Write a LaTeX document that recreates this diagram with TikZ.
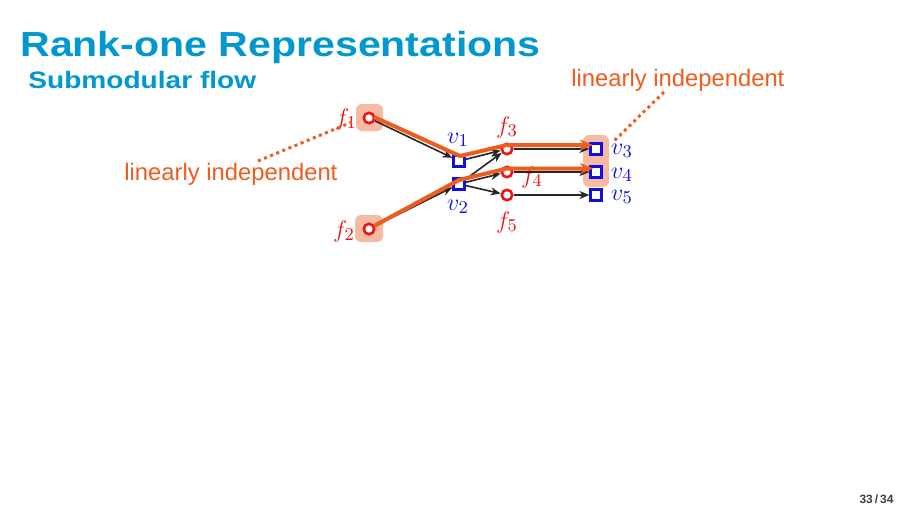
\documentclass[tikz,border=0pt]{standalone}
\usepackage{fontspec}
\setmainfont{Liberation Sans}
\newfontfamily\titlefont[FakeStretch=1.18]{Liberation Sans Bold}
\usetikzlibrary{arrows.meta,calc}
\definecolor{titleblue}{RGB}{0,152,206}
\definecolor{hlorange}{RGB}{238,92,30}
\definecolor{hlbox}{RGB}{247,186,162}
\definecolor{nodered}{RGB}{235,20,20}
\definecolor{nodeblue}{RGB}{15,15,225}
\begin{document}
\begin{tikzpicture}[x=0.5pt,y=-0.5pt,
  fnode/.style={circle,draw=nodered,fill=white,line width=1.3pt,minimum size=5.2pt,inner sep=0pt},
  vnode/.style={rectangle,draw=nodeblue,fill=white,line width=1.4pt,minimum size=5.2pt,inner sep=0pt},
  flab/.style={text=nodered,font=\fontsize{12.5}{14}\selectfont,inner sep=0pt},
  vlab/.style={text=nodeblue,font=\fontsize{12.5}{14}\selectfont,inner sep=0pt},
  edge/.style={draw=black!85,line width=0.8pt,-{Stealth[length=5pt,width=4pt]}},
  flow/.style={draw=hlorange,line width=2pt,line join=round,-{Stealth[length=6.5pt,width=5.5pt]}},
  hl/.style={fill=hlbox,rounded corners=3pt},
  dots/.style={draw=hlorange,line width=1.5pt,dash pattern=on 1.5pt off 1.8pt},
  note/.style={text=hlorange,font=\fontsize{11.9}{14}\selectfont,inner sep=0pt,anchor=base west},
]
\fill[white] (0,0) rectangle (907,510);
\useasboundingbox (0,0) rectangle (907,510);

% titles
\node[anchor=base west,text=titleblue,font=\titlefont\fontsize{17.4}{20}\selectfont,inner sep=0pt] (title) at (20,56) {Rank-one Representations};
\node[anchor=base west,text=titleblue,font=\titlefont\fontsize{11.9}{14}\selectfont,inner sep=0pt] (subtitle) at (28,88) {Submodular flow};

% highlight boxes
\fill[hl] (356,104) rectangle (383,131);
\fill[hl] (355,215) rectangle (383,242);
\fill[hl] (583,135) rectangle (609,187);

% nodes
\node[fnode] (f1) at (369,118) {};
\node[fnode] (f2) at (369,229) {};
\node[vnode] (v1) at (459,161) {};
\node[vnode] (v2) at (459,184) {};
\node[fnode] (f3) at (507,149) {};
\node[fnode] (f4) at (507,172) {};
\node[fnode] (f5) at (507,195) {};
\node[vnode] (v3) at (596,149) {};
\node[vnode] (v4) at (596,172) {};
\node[vnode] (v5) at (596,195) {};

% labels
\node[flab] (lf1) at (346,119) {$f_1$};
\node[flab] (lf2) at (344,231) {$f_2$};
\node[flab] (lf3) at (507,127) {$f_3$};
\node[flab] (lf4) at (532,177) {$f_4$};
\node[flab] (lf5) at (507,222) {$f_5$};
\node[vlab] (lv1) at (458,140) {$v_1$};
\node[vlab] (lv2) at (458,207) {$v_2$};
\node[vlab] (lv3) at (622,151) {$v_3$};
\node[vlab] (lv4) at (622,175) {$v_4$};
\node[vlab] (lv5) at (622,197) {$v_5$};

% black edges
\draw[edge] (f1) -- (v1);
\draw[edge] (f2) -- (v2);
\draw[edge] (v1) -- (f3);
\draw[edge] (v2) -- (f3);
\draw[edge] (v2) -- (f4);
\draw[edge] (v2) -- (f5);
\draw[edge] (f3) -- (v3);
\draw[edge] (f4) -- (v4);
\draw[edge] (f5) -- (v5);

% orange flows
\draw[flow] ($(f1)+(5,-1)$) -- ($(v1)+(1,-5)$) -- ($(f3)+(0,-4)$) -- ($(v3)+(-3,-4)$);
\draw[flow] ($(f2)+(5,-3)$) -- ($(v2)+(0,-4)$) -- ($(f4)+(0,-3.5)$) -- ($(v4)+(-3,-3.5)$);

% notes
\node[note] (n1) at (124,180) {linearly independent};
\node[note] (n2) at (571,86) {linearly independent};
\coordinate (d1a) at (258,161);
\coordinate (d1b) at (352,122);
\coordinate (d2a) at (664,92);
\coordinate (d2b) at (613,142);
\draw[dots] (d1a) -- (d1b);
\draw[dots] (d2a) -- (d2b);

% page number
\node[anchor=base east,font=\bfseries\fontsize{6}{7}\selectfont,text=black!75,inner sep=0pt] (page) at (894,503) {33\,/\,34};
\end{tikzpicture}
\end{document}
